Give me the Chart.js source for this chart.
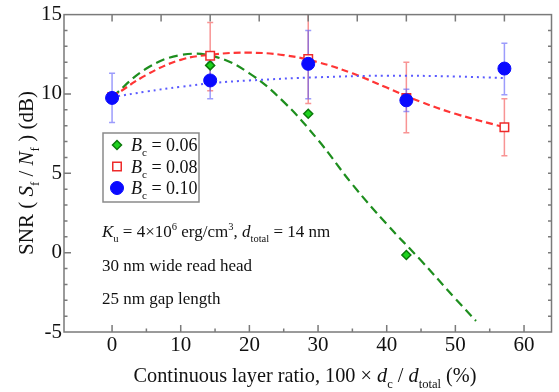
<!DOCTYPE html>
<html>
<head>
<meta charset="utf-8">
<script src="https://cdn.jsdelivr.net/npm/chart.js@4/dist/chart.umd.min.js"></script>
<style>
  body { margin: 0; background: #fff; }
  #snrChart { display: block; }
</style>
</head>
<body>
<canvas id="snrChart" width="559" height="392"></canvas>
<script>
// continuous layer ratio (%) of the simulated media
const ratios = [0, 14.29, 28.57, 42.86, 57.14];

// measured SNR (dB) per Bc
const snr006 = [9.8, 11.8, 8.75, -0.15];
const snr008 = [9.8, 12.4, 12.2, 9.75, 7.9];
const snr010 = [9.75, 10.85, 11.9, 9.6, 11.6];

// error bars (upper / lower), null = not drawn
const err008Hi = [null, 14.5, 15.3, 12.0, 9.7];
const err008Lo = [null, 10.2, 9.4, 7.55, 6.1];
const err010Hi = [11.3, 12.0, 14.0, 10.3, 13.2];
const err010Lo = [8.2, 9.7, 9.7, 8.9, 9.95];

// fitted curves
const fit006X = [0, 5, 10, 15, 20, 25, 30, 35, 40, 45, 50, 53];
const fit006Y = [9.8, 11.6, 12.45, 12.35, 11.3, 9.5, 7.1, 4.3, 1.8, -0.5, -2.9, -4.3];
const fit008X = [0, 5, 10, 15, 20, 25, 30, 35, 40, 45, 50, 57.14];
const fit008Y = [9.8, 11.2, 12.15, 12.5, 12.6, 12.45, 12.0, 11.3, 10.4, 9.5, 8.75, 7.9];
const fit010X = [0, 5, 10, 15, 20, 30, 40, 50, 57.14];
const fit010Y = [9.8, 10.15, 10.45, 10.7, 10.85, 11.05, 11.15, 11.1, 11.0];

// axis ticks
const xTicks = [0, 10, 20, 30, 40, 50, 60];
const xMinorTicks = [5, 15, 25, 35, 45, 55];
const xTopTicks = [0, 7.14, 14.29, 21.43, 28.57, 35.71, 42.86, 50, 57.14];
const yTicks = [-5, 0, 5, 10, 15];

const SERIF = '"Liberation Serif", "DejaVu Serif", serif';

function pts(xs, ys) {
    return ys.map((y, i) => ({ x: xs[i], y: y }));
}

// draws text made of runs: {t, i: italic, sub, sup}
function richWidth(ctx, runs, size) {
    let w = 0;
    runs.forEach(r => {
        let s = (r.sub || r.sup) ? size * 0.62 : size;
        ctx.font = (r.i ? 'italic ' : '') + s + 'px ' + SERIF;
        w += ctx.measureText(r.t).width;
    });
    return w;
}
function drawRich(ctx, runs, x, y, size, align) {
    let w = richWidth(ctx, runs, size);
    let cx = align === 'center' ? x - w / 2 : x;
    ctx.textBaseline = 'alphabetic';
    ctx.textAlign = 'left';
    runs.forEach(r => {
        let s = (r.sub || r.sup) ? size * 0.62 : size;
        let dy = r.sub ? size * 0.3 : (r.sup ? -size * 0.42 : 0);
        ctx.font = (r.i ? 'italic ' : '') + s + 'px ' + SERIF;
        ctx.fillText(r.t, cx, y + dy);
        cx += ctx.measureText(r.t).width;
    });
}

const styles = {
    g: { pointStyle: 'rectRot', radius: 4.5, backgroundColor: '#1ed31e', borderColor: '#0b7a0b', borderWidth: 1.5 },
    r: { pointStyle: 'rect', radius: 6, backgroundColor: '#ffffff', borderColor: '#ee2b2b', borderWidth: 1.5 },
    b: { pointStyle: 'circle', radius: 6.5, backgroundColor: '#0a0aff', borderColor: '#0a0aff', borderWidth: 1 }
};

const decor = {
    id: 'decor',
    beforeDatasetsDraw(chart) {
        const ctx = chart.ctx;
        const xs = chart.scales.x, ys = chart.scales.y;
        const a = chart.chartArea;
        ctx.save();
        ctx.beginPath();
        ctx.rect(a.left, a.top, a.right - a.left, a.bottom - a.top);
        ctx.clip();
        const bars = [
            { hi: err008Hi, lo: err008Lo, c: 'rgba(245, 90, 90, 0.65)' },
            { hi: err010Hi, lo: err010Lo, c: 'rgba(90, 90, 250, 0.6)' }
        ];
        bars.forEach(s => {
            ctx.strokeStyle = s.c;
            ctx.lineWidth = 1.5;
            ratios.forEach((r, i) => {
                if (s.hi[i] == null) return;
                let px = xs.getPixelForValue(r);
                let y1 = ys.getPixelForValue(s.hi[i]);
                let y2 = ys.getPixelForValue(s.lo[i]);
                ctx.beginPath();
                ctx.moveTo(px, y1); ctx.lineTo(px, y2);
                ctx.moveTo(px - 3, y1); ctx.lineTo(px + 3, y1);
                ctx.moveTo(px - 3, y2); ctx.lineTo(px + 3, y2);
                ctx.stroke();
            });
        });
        ctx.restore();
    },
    afterDraw(chart) {
        const ctx = chart.ctx;
        const xs = chart.scales.x, ys = chart.scales.y;
        const a = chart.chartArea;
        ctx.save();
        // frame
        ctx.strokeStyle = '#7a7a7a';
        ctx.lineWidth = 1.5;
        ctx.strokeRect(a.left, a.top, a.right - a.left, a.bottom - a.top);
        ctx.beginPath();
        xTicks.forEach(v => {
            let p = xs.getPixelForValue(v);
            ctx.moveTo(p, a.bottom); ctx.lineTo(p, a.bottom - 7);
        });
        xMinorTicks.forEach(v => {
            let p = xs.getPixelForValue(v);
            ctx.moveTo(p, a.bottom); ctx.lineTo(p, a.bottom - 3.5);
        });
        xTopTicks.forEach(v => {
            let p = xs.getPixelForValue(v);
            ctx.moveTo(p, a.top); ctx.lineTo(p, a.top + 7);
        });
        for (let v = -4; v < 15; v++) {
            let p = ys.getPixelForValue(v);
            let len = v % 5 === 0 ? 7 : 3.5;
            ctx.moveTo(a.left, p); ctx.lineTo(a.left + len, p);
            ctx.moveTo(a.right, p); ctx.lineTo(a.right - 3.5, p);
        }
        ctx.stroke();

        // legend
        ctx.strokeStyle = '#8a8a8a';
        ctx.lineWidth = 1.5;
        ctx.strokeRect(103, 133, 96, 69);
        const rows = [['g', '0.06'], ['r', '0.08'], ['b', '0.10']];
        rows.forEach((row, i) => {
            let cy = 145 + i * 21.5;
            let st = styles[row[0]];
            ctx.fillStyle = st.backgroundColor;
            ctx.strokeStyle = st.borderColor;
            ctx.lineWidth = st.borderWidth;
            Chart.helpers.drawPoint(ctx, { pointStyle: st.pointStyle, radius: st.radius, rotation: 0, borderWidth: st.borderWidth }, 117, cy);
            ctx.fillStyle = '#111';
            drawRich(ctx, [{ t: 'B', i: true }, { t: 'c', sub: true }, { t: ' = ' + row[1] }], 131, cy + 6, 18);
        });

        // notes
        ctx.fillStyle = '#111';
        drawRich(ctx, [{ t: 'K', i: true }, { t: 'u', sub: true }, { t: ' = 4\u00d710' }, { t: '6', sup: true },
            { t: ' erg/cm' }, { t: '3', sup: true }, { t: ', ' }, { t: 'd', i: true }, { t: 'total', sub: true },
            { t: ' = 14 nm' }], 102, 237, 17);
        drawRich(ctx, [{ t: '30 nm wide read head' }], 102, 271, 17);
        drawRich(ctx, [{ t: '25 nm gap length' }], 102, 304, 17);

        // axis titles
        drawRich(ctx, [{ t: 'Continuous layer ratio, 100 \u00d7 ' }, { t: 'd', i: true }, { t: 'c', sub: true },
            { t: ' / ' }, { t: 'd', i: true }, { t: 'total', sub: true }, { t: ' (%)' }], 305, 382, 20.3, 'center');
        ctx.translate(33, 173);
        ctx.rotate(-Math.PI / 2);
        drawRich(ctx, [{ t: 'SNR ( ' }, { t: 'S', i: true }, { t: 'f', sub: true }, { t: ' / ' }, { t: 'N', i: true },
            { t: 'f', sub: true }, { t: ' ) (dB)' }], 0, 0, 21, 'center');
        ctx.restore();
    }
};

const ctx = document.getElementById('snrChart').getContext('2d');
window.snrChart = new Chart(ctx, {
    type: 'line',
    data: {
        datasets: [
            { label: 'fit 0.06', data: pts(fit006X, fit006Y), borderColor: '#1e8e1e', borderWidth: 2.2,
              borderDash: [9, 5], pointRadius: 0, tension: 0.4, fill: false, order: 6 },
            { label: 'fit 0.08', data: pts(fit008X, fit008Y), borderColor: '#ff3535', borderWidth: 2.2,
              borderDash: [7, 4], pointRadius: 0, tension: 0.4, fill: false, order: 5 },
            { label: 'fit 0.10', data: pts(fit010X, fit010Y), borderColor: '#5a5aff', borderWidth: 2,
              borderDash: [2, 4], pointRadius: 0, tension: 0.4, fill: false, order: 4 },
            { label: 'Bc = 0.06', data: pts(ratios, snr006), showLine: false, order: 3,
              pointStyle: styles.g.pointStyle, pointRadius: styles.g.radius, pointBackgroundColor: styles.g.backgroundColor,
              pointBorderColor: styles.g.borderColor, pointBorderWidth: styles.g.borderWidth },
            { label: 'Bc = 0.08', data: pts(ratios, snr008), showLine: false, order: 2,
              pointStyle: styles.r.pointStyle, pointRadius: styles.r.radius, pointBackgroundColor: styles.r.backgroundColor,
              pointBorderColor: styles.r.borderColor, pointBorderWidth: styles.r.borderWidth },
            { label: 'Bc = 0.10', data: pts(ratios, snr010), showLine: false, order: 1,
              pointStyle: styles.b.pointStyle, pointRadius: styles.b.radius, pointBackgroundColor: styles.b.backgroundColor,
              pointBorderColor: styles.b.borderColor, pointBorderWidth: styles.b.borderWidth }
        ]
    },
    options: {
        responsive: false,
        animation: false,
        layout: { padding: { top: 12, right: 1, left: 0, bottom: 0 } },
        plugins: { legend: { display: false }, tooltip: { enabled: false } },
        scales: {
            x: {
                type: 'linear', min: -7, max: 64,
                grid: { display: false, drawTicks: false, tickLength: 0 }, border: { display: false },
                afterBuildTicks: s => { s.ticks = xTicks.map(v => ({ value: v })); },
                afterFit: s => { s.height = 60; },
                ticks: { padding: 1, color: '#111', font: { family: SERIF, size: 21 } }
            },
            y: {
                min: -5, max: 15,
                grid: { display: false, drawTicks: false, tickLength: 0 }, border: { display: false },
                afterBuildTicks: s => { s.ticks = yTicks.map(v => ({ value: v })); },
                afterFit: s => { s.width = 64; },
                ticks: { padding: 2, color: '#111', font: { family: SERIF, size: 21 } }
            }
        }
    },
    plugins: [decor]
});
</script>
</body>
</html>
